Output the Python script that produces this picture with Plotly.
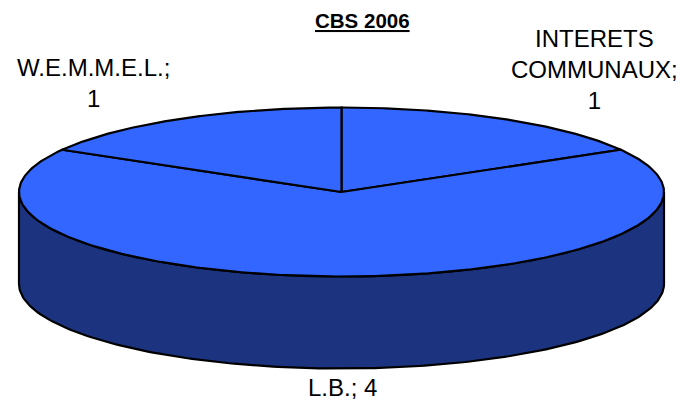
import numpy as np
import plotly.graph_objects as go

# ---- data ----
chart_title = "CBS 2006"
names = ["INTERETS COMMUNAUX", "L.B.", "W.E.M.M.E.L."]
values = [1, 4, 1]

# ---- geometry / style ----
W, H = 684, 403
cx, cy = 341.5, 192.0
rx, ry = 322.5, 84.5
depth = 92.0
top_color = "#3366FF"
side_color = "#1C3480"
edge = dict(color="black", width=2.2)

label_names = ["INTERETS<br>COMMUNAUX", "L.B.", "W.E.M.M.E.L."]
label_sep = ["<br>", " ", "<br>"]
label_pos = [(594, 69), (342, 387), (93, 83)]


def ell(t, dy=0.0):
    return cx + rx * np.sin(t), cy - ry * np.cos(t) + dy


fig = go.Figure()
total = float(sum(values))
cum = np.concatenate([[0.0], np.cumsum(values)]) / total * 2 * np.pi

# side walls (front half only)
for i in range(len(values)):
    a0, a1 = cum[i], cum[i + 1]
    s0, s1 = max(a0, np.pi / 2), min(a1, 3 * np.pi / 2)
    if s0 >= s1:
        continue
    t = np.linspace(s0, s1, 200)
    xt, yt = ell(t)
    xb, yb = ell(t[::-1], depth)
    fig.add_trace(go.Scatter(
        x=np.concatenate([xt, xb, xt[:1]]),
        y=np.concatenate([yt, yb, yt[:1]]),
        mode="lines", fill="toself", fillcolor=side_color,
        line=edge, hoverinfo="skip", showlegend=False))

# top slices
for i in range(len(values)):
    a0, a1 = cum[i], cum[i + 1]
    t = np.linspace(a0, a1, 300)
    xt, yt = ell(t)
    fig.add_trace(go.Scatter(
        x=np.concatenate([[cx], xt, [cx]]),
        y=np.concatenate([[cy], yt, [cy]]),
        mode="lines", fill="toself", fillcolor=top_color,
        line=edge, hoverinfo="skip", showlegend=False,
        name=names[i]))

# labels
for i in range(len(values)):
    fig.add_annotation(
        x=label_pos[i][0], y=label_pos[i][1], xref="x", yref="y",
        text=f"{label_names[i]};{label_sep[i]}{values[i]}",
        showarrow=False, xanchor="center", yanchor="middle",
        font=dict(family="Liberation Sans, Arial", size=24, color="black"))

fig.add_annotation(
    x=362, y=20, xref="x", yref="y",
    text=f"<b><u>{chart_title}</u></b>", showarrow=False,
    xanchor="center", yanchor="middle",
    font=dict(family="Liberation Sans, Arial", size=20.5, color="black"))

fig.update_layout(
    width=W, height=H,
    margin=dict(l=0, r=0, t=0, b=0),
    paper_bgcolor="white", plot_bgcolor="white",
    xaxis=dict(range=[0, W], visible=False, fixedrange=True),
    yaxis=dict(range=[H, 0], visible=False, fixedrange=True),
)

fig.write_html("out.html", config={"displayModeBar": False},
               post_script="document.body.style.margin='0';document.body.style.overflow='hidden';")
